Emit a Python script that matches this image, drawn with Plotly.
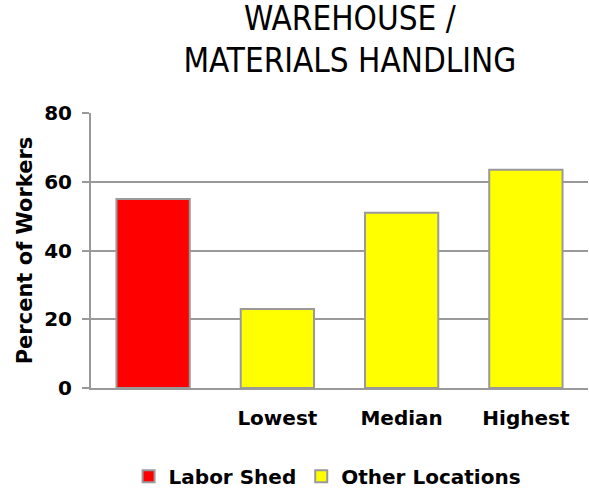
import plotly.graph_objects as go

categories = [" ", "Lowest", "Median", "Highest"]
labor_shed_cat = [" "]
labor_shed_vals = [55]
other_cat = ["Lowest", "Median", "Highest"]
other_vals = [23, 51, 63.5]
y_ticks = [0, 20, 40, 60, 80]

font_fam = "DejaVu Sans, Verdana, sans-serif"
title_fam = "DejaVu Sans Condensed, Tahoma, Liberation Sans, sans-serif"
edge = "#999999"

fig = go.Figure()
fig.add_trace(go.Bar(x=labor_shed_cat, y=labor_shed_vals, name="Labor Shed",
                     marker=dict(color="#ff0000", line=dict(color=edge, width=2))))
fig.add_trace(go.Bar(x=other_cat, y=other_vals, name="Other Locations",
                     marker=dict(color="#ffff00", line=dict(color=edge, width=2))))

bold20 = dict(family=font_fam, size=20, color="black", weight="bold")

fig.update_layout(
    width=589, height=492,
    barmode="overlay",
    bargap=0.41,
    plot_bgcolor="white", paper_bgcolor="white",
    margin=dict(l=91, r=1, t=113, b=104, autoexpand=False),
    title=dict(text="WAREHOUSE /<br>MATERIALS HANDLING", xref="container", x=0.594, xanchor="center",
               yref="container", y=0.94, yanchor="top", pad=dict(t=0, b=0),
               font=dict(family=title_fam, size=33, color="black")),
    font=dict(family=font_fam, color="black"),
    showlegend=True,
    legend=dict(orientation="h", x=0.475, xanchor="center", y=-0.25, yanchor="top",
                font=dict(family=font_fam, size=20, color="black", weight="bold"),
                itemwidth=30, tracegroupgap=0),
    xaxis=dict(type="category", categoryorder="array", categoryarray=categories,
               showline=True, linecolor=edge, linewidth=2, ticks="",
               tickfont=bold20, ticklabelstandoff=11,
               showgrid=False),
    yaxis=dict(range=[0, 80], tickvals=y_ticks, showline=True, linecolor=edge, linewidth=2,
               gridcolor=edge, gridwidth=2, ticks="outside", ticklen=7, tickcolor=edge,
               tickwidth=2, zeroline=False,
               tickfont=bold20, ticklabelstandoff=6,
               title=dict(text="Percent of Workers", standoff=6,
                          font=dict(family=font_fam, size=21, color="black", weight="bold"))),
)

fig.write_html("out.html", config={"displayModeBar": False},
               post_script="document.body.style.margin='0';document.body.style.overflow='hidden';")
